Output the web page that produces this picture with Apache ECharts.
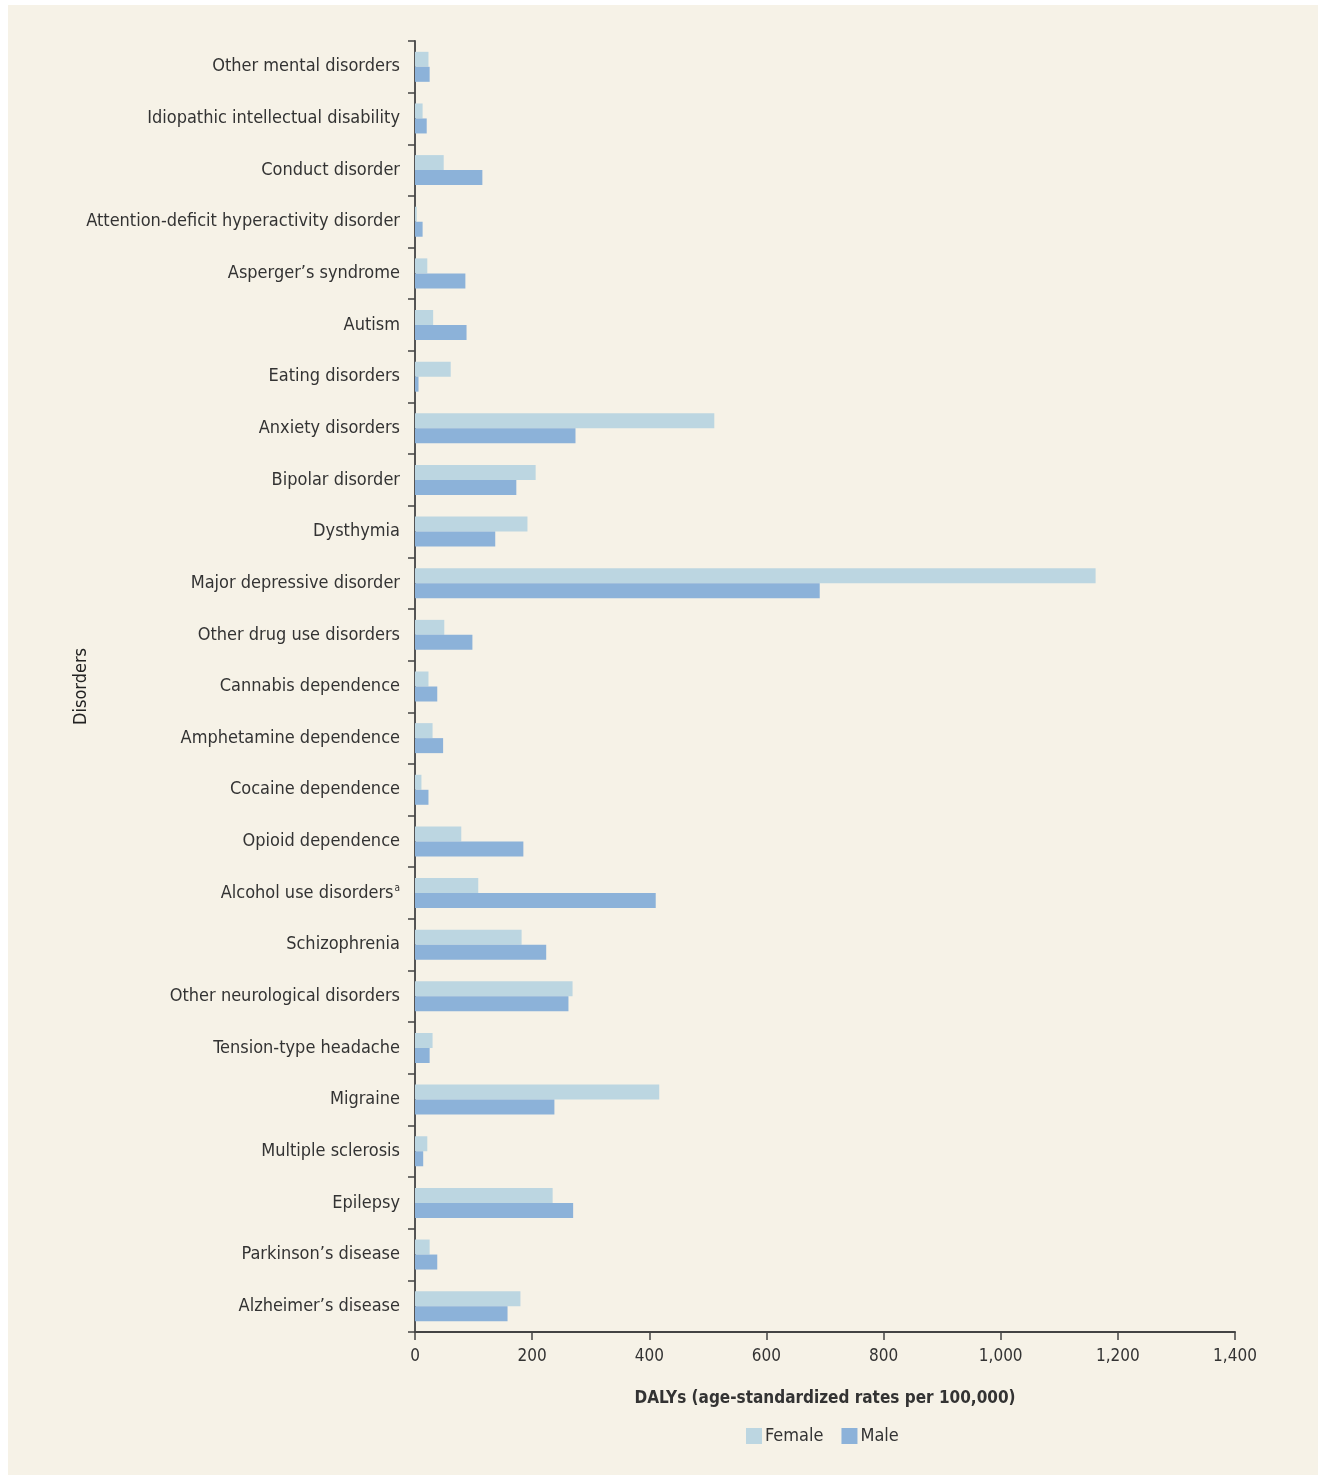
<!DOCTYPE html>
<html>
<head>
<meta charset="utf-8">
<script src="https://cdn.jsdelivr.net/npm/echarts@6/dist/echarts.min.js"></script>
<style>
html,body{margin:0;padding:0;background:#ffffff;}
#wrap{position:absolute;left:0;top:0;width:1320px;height:1477px;background:#ffffff;}
#chart{position:absolute;left:8px;top:5px;width:1310px;height:1470px;}
</style>
</head>
<body>
<div id="wrap"><div id="chart"></div></div>
<script>
// Categories listed top to bottom as in the reference
const categories = [
  "Other mental disorders",
  "Idiopathic intellectual disability",
  "Conduct disorder",
  "Attention-deficit hyperactivity disorder",
  "Asperger\u2019s syndrome",
  "Autism",
  "Eating disorders",
  "Anxiety disorders",
  "Bipolar disorder",
  "Dysthymia",
  "Major depressive disorder",
  "Other drug use disorders",
  "Cannabis dependence",
  "Amphetamine dependence",
  "Cocaine dependence",
  "Opioid dependence",
  "Alcohol use disorders",
  "Schizophrenia",
  "Other neurological disorders",
  "Tension-type headache",
  "Migraine",
  "Multiple sclerosis",
  "Epilepsy",
  "Parkinson\u2019s disease",
  "Alzheimer\u2019s disease"
];
const female = [23, 13, 49, 3, 21, 31, 61, 511, 206, 192, 1162, 50, 23, 30, 11, 79, 108, 182, 269, 30, 417, 21, 235, 25, 180];
const male   = [25, 20, 115, 13, 86, 88, 6, 274, 173, 137, 691, 98, 38, 48, 23, 185, 411, 224, 262, 25, 238, 14, 270, 38, 158];
const xTicks = [0, 200, 400, 600, 800, 1000, 1200, 1400];
const seriesNames = ["Female", "Male"];

const FONT = '"Liberation Sans Narrow","DejaVu Sans Condensed",sans-serif';
const chart = echarts.init(document.getElementById('chart'), null, {renderer: 'canvas'});

function fmtNum(v){ return v.toLocaleString('en-US'); }

const option = {
  backgroundColor: '#f6f2e7',
  animation: false,
  textStyle: {fontFamily: FONT},
  grid: {left: 407, right: 83, top: 36, bottom: 143, containLabel: false},
  legend: {
    data: seriesNames,
    top: 1417,
    left: 733,
    itemWidth: 16, itemHeight: 16, itemGap: 18,
    icon: 'rect',
    textStyle: {fontFamily: FONT, fontSize: 18, color: '#333333', padding: [0,0,0,-2]}
  },
  xAxis: {
    type: 'value',
    min: xTicks[0], max: xTicks[xTicks.length-1], interval: 200,
    name: 'DALYs (age-standardized rates per 100,000)',
    nameLocation: 'middle', nameGap: 58,
    nameTextStyle: {fontFamily: FONT, fontSize: 17, fontWeight: 'bold', color: '#333333'},
    axisLine: {show: true, lineStyle: {color: '#444444', width: 2}},
    axisTick: {show: true, length: 8, lineStyle: {color: '#444444', width: 1.5}},
    axisLabel: {fontFamily: FONT, fontSize: 17, color: '#333333', margin: 16, formatter: fmtNum},
    splitLine: {show: false}
  },
  yAxis: {
    type: 'category',
    data: categories,
    inverse: true,
    name: 'Disorders',
    nameLocation: 'middle', nameGap: 325,
    nameMoveOverlap: false,
    nameRotate: 90,
    nameTextStyle: {fontFamily: FONT, fontSize: 18, color: '#222222'},
    axisLine: {show: true, lineStyle: {color: '#555555', width: 2}},
    axisTick: {show: true, length: 7, lineStyle: {color: '#444444', width: 1.5}},
    axisLabel: {
      fontFamily: FONT, fontSize: 18, color: '#333333', margin: 15,
      formatter: function(v){ return v === 'Alcohol use disorders' ? v + '{sup|a}' : v; },
      rich: {sup: {fontFamily: FONT, fontSize: 10, color: '#333333', verticalAlign: 'top', padding: [0,0,9,1]}}
    }
  },
  series: [
    {name: seriesNames[0], type: 'bar', data: female, barWidth: 15, barGap: '0%',
     itemStyle: {color: '#bcd6e1'}},
    {name: seriesNames[1], type: 'bar', data: male, barWidth: 15, barGap: '0%',
     itemStyle: {color: '#8cb2d9'}}
  ]
};
chart.setOption(option);
</script>
</body>
</html>
